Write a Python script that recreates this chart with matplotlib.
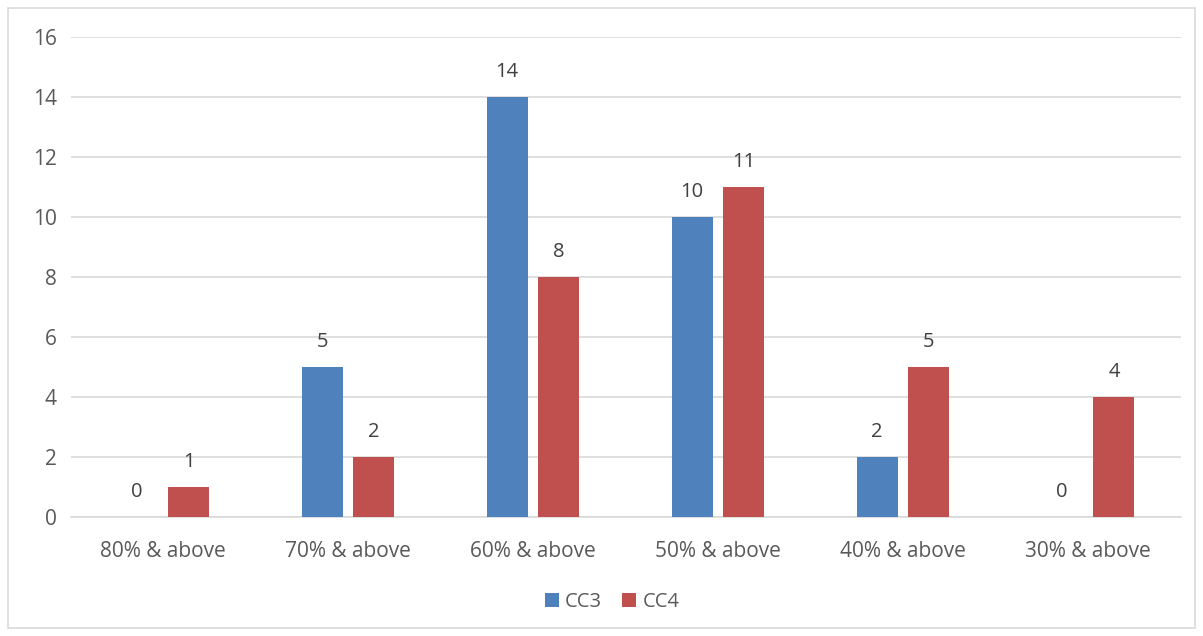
import matplotlib.pyplot as plt
import numpy as np
from matplotlib.patches import Rectangle

categories = ["80% & above", "70% & above", "60% & above", "50% & above", "40% & above", "30% & above"]
cc3 = [0, 5, 14, 10, 2, 0]
cc4 = [1, 2, 8, 11, 5, 4]

plt.rcParams['font.family'] = ['Open Sans', 'DejaVu Sans']
text_color = '#595959'

fig = plt.figure(figsize=(12.03, 6.36), dpi=100)
ax = fig.add_axes([70.5 / 1203, 1 - 517 / 636, 1110 / 1203, 480 / 636])

x = np.arange(len(categories))
w = 0.222
off = 0.14
b1 = ax.bar(x - off, cc3, w, color='#4F81BD', label='CC3', zorder=3)
b2 = ax.bar(x + off, cc4, w, color='#C0504D', label='CC4', zorder=3)

for bars, vals in ((b1, cc3), (b2, cc4)):
    for rect, v in zip(bars, vals):
        ax.text(rect.get_x() + rect.get_width() / 2, v + 0.5, str(v),
                ha='center', va='bottom', fontsize=14.5, color='#404040')

ax.set_xlim(-0.5, len(categories) - 0.5)
ax.set_ylim(0, 16)
ax.set_yticks(range(0, 17, 2))
ax.set_xticks(x)
ax.set_xticklabels(categories)
ax.yaxis.grid(True, color='#D9D9D9', linewidth=1.2, zorder=0)
ax.tick_params(axis='both', length=0, labelsize=15, colors=text_color)
ax.tick_params(axis='x', pad=17)
ax.tick_params(axis='y', pad=10)
for s in ['top', 'right', 'left']:
    ax.spines[s].set_visible(False)
ax.spines['bottom'].set_color('#D9D9D9')
ax.spines['bottom'].set_linewidth(1.2)

leg = fig.legend(loc='center', bbox_to_anchor=(612 / 1203, 1 - 602 / 636), ncol=2, frameon=False,
                 fontsize=14.5, handlelength=0.7, handleheight=0.7, columnspacing=1.0,
                 handletextpad=0.3)
for t in leg.get_texts():
    t.set_color(text_color)

fig.patches.append(Rectangle((8 / 1203, 8 / 636), 1187 / 1203, 620 / 636, transform=fig.transFigure,
                             fill=False, edgecolor='#D9D9D9', linewidth=1.2))

fig.savefig('out.png', dpi=100)
